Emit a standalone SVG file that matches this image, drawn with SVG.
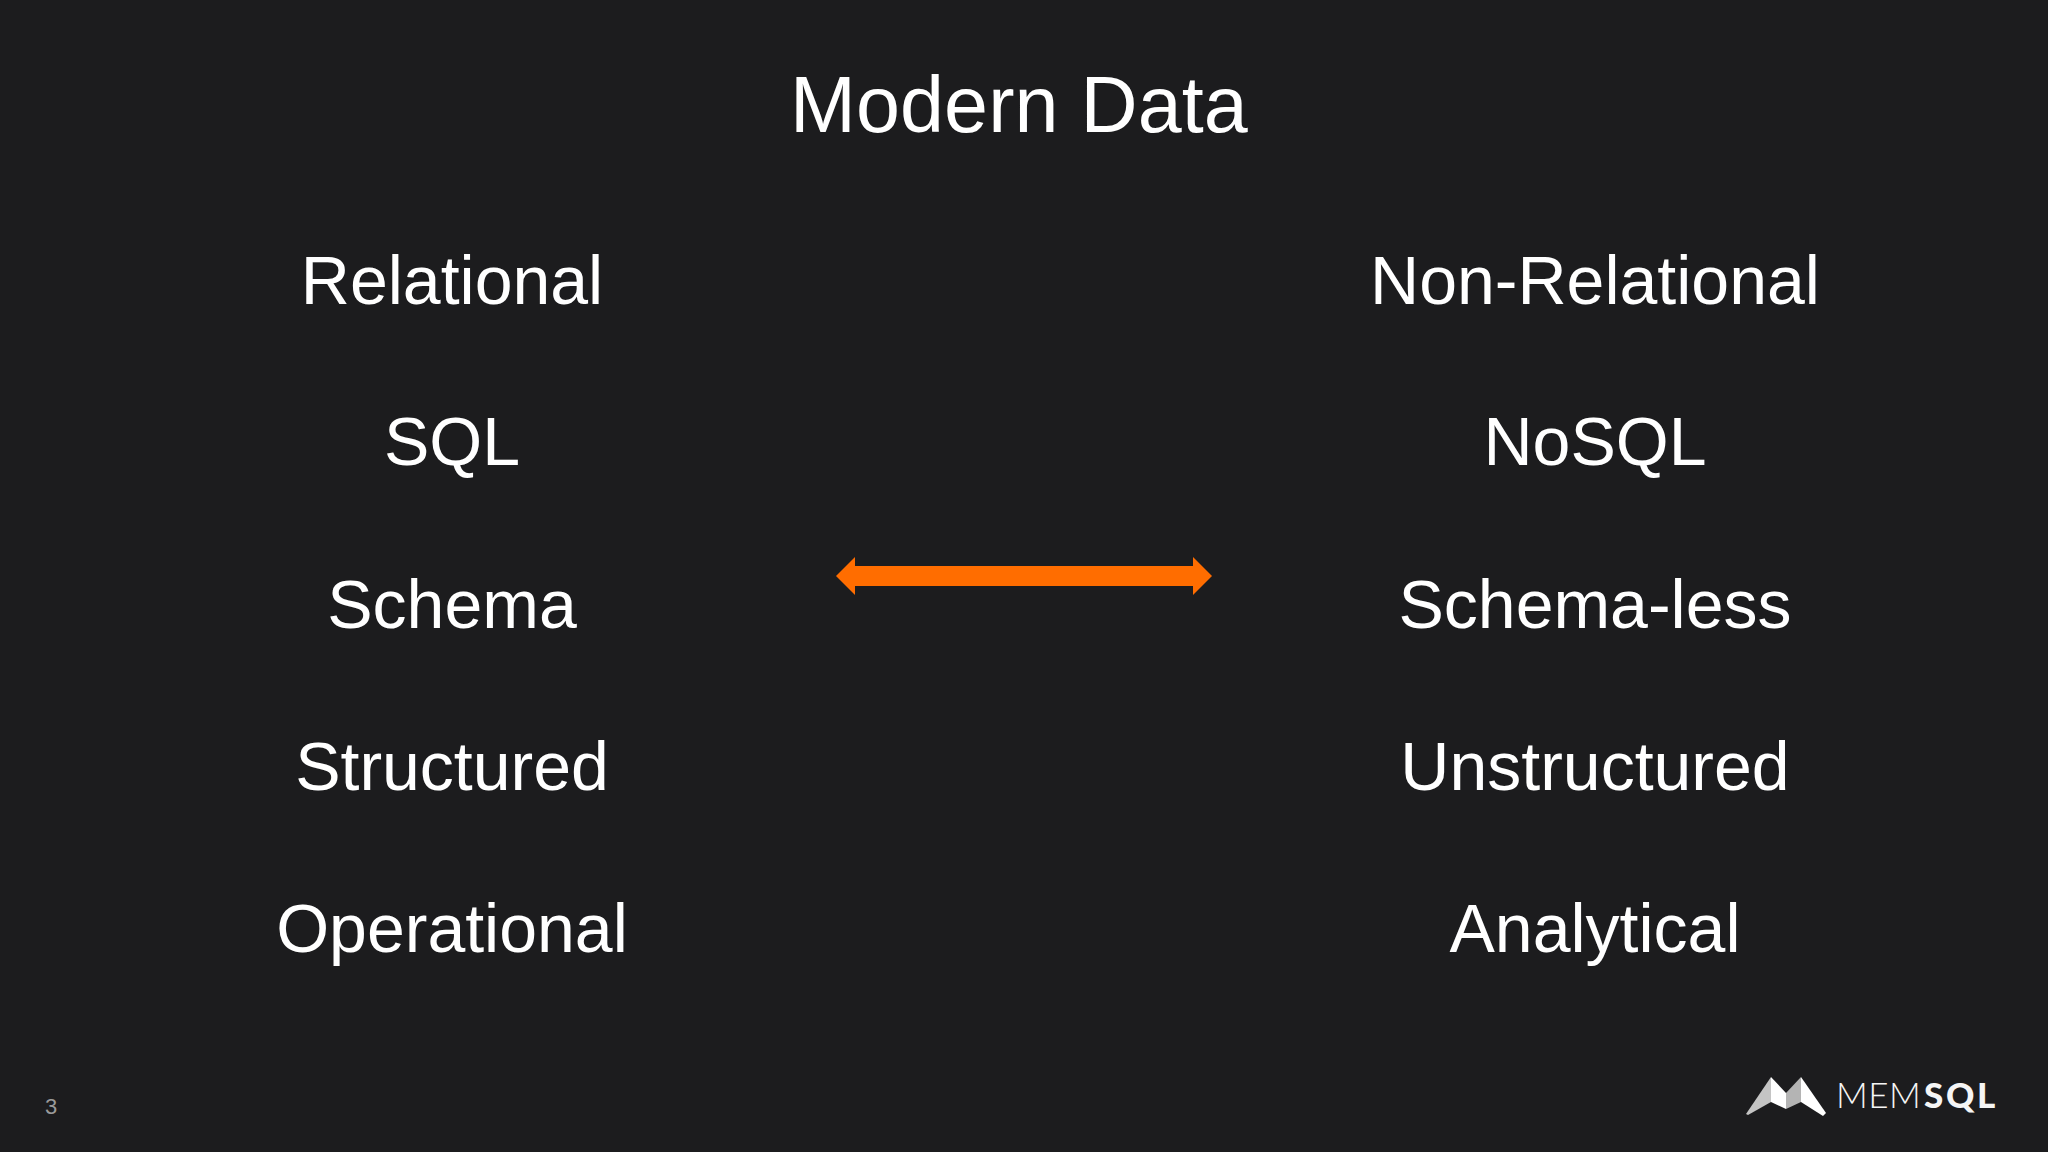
<svg xmlns="http://www.w3.org/2000/svg" width="2048" height="1152" viewBox="0 0 2048 1152">
<style>
text{font-family:"Liberation Sans",Arial,sans-serif;fill:#fff;text-anchor:middle}
.i{font-size:68px}
.t{font-size:79px;letter-spacing:.1px}
.lg{font-family:Lato,"Liberation Sans",sans-serif;font-size:35px;text-anchor:start;fill:#f5f5f5}
</style>
<rect width="2048" height="1152" fill="#1c1c1e"/>
<g id="title"><text class="t" x="1019" y="132">Modern Data</text></g>
<g id="left">
<text class="i" x="452" y="304">Relational</text>
<text class="i" x="452" y="465">SQL</text>
<text class="i" x="452" y="628">Schema</text>
<text class="i" x="452" y="790">Structured</text>
<text class="i" x="452" y="952">Operational</text>
</g>
<g id="right">
<text class="i" x="1595" y="304">Non-Relational</text>
<text class="i" x="1595" y="465">NoSQL</text>
<text class="i" x="1595" y="628">Schema-less</text>
<text class="i" x="1595" y="790">Unstructured</text>
<text class="i" x="1595" y="952">Analytical</text>
</g>
<g id="connectors"><path id="arrow" d="M836 576L855 557V566H1193V557L1212 576L1193 595V586H855V595Z" fill="#ff6d00"/></g>
<g id="page"><text x="51" y="1114" style="font-size:22px;fill:#9a9a9a">3</text></g>
<g id="logo">
<path d="M1746 1114L1771 1077V1102L1748 1115Z" fill="#c4c4c4"/>
<path d="M1771 1077L1786 1093V1109L1771 1102Z" fill="#fff"/>
<path d="M1786 1093L1801 1077V1102L1786 1109Z" fill="#b4b4b4"/>
<path d="M1801 1077L1826 1113L1823 1116L1801 1102Z" fill="#fff"/>
<text class="lg" x="1836" y="1108" font-weight="300" letter-spacing=".5">MEM</text>
<text class="lg" x="1924" y="1108" font-weight="900" letter-spacing="2.6">SQL</text>
</g>
</svg>
